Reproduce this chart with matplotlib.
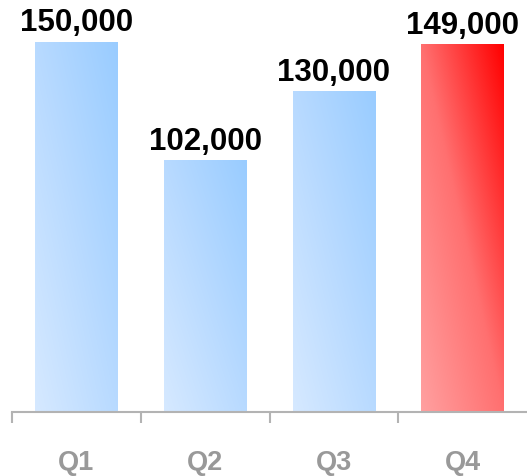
import numpy as np
import matplotlib
matplotlib.use('Agg')
import matplotlib.pyplot as plt
from matplotlib.colors import LinearSegmentedColormap

# 数据
categories = ['Q1', 'Q2', 'Q3', 'Q4']
values = [150000, 102000, 130000, 149000]
highlight = [False, False, False, True]

plt.rcParams['font.family'] = ['Liberation Sans', 'DejaVu Sans']

blue_cmap = LinearSegmentedColormap.from_list('blue', ['#d6e9ff', '#b8daff', '#99ccff'])
red_cmap = LinearSegmentedColormap.from_list('red', ['#ffa0a0', '#ff7070', '#ff0000'])

fig = plt.figure(figsize=(5.27, 4.77), dpi=100)
ax = fig.add_axes([12 / 527, (477 - 413) / 477, 515 / 527, 370 / 477])

x = np.arange(len(categories))
bars = ax.bar(x, values, width=0.64, color='none', edgecolor='none')

# 每个柱子用对角渐变填充（左下浅，右上深）
u = np.linspace(0, 1, 200)
v = np.linspace(1, 0, 200)
uu, vv = np.meshgrid(u, v)
grad = (uu + vv) / 2
for b, hl in zip(bars, highlight):
    x0, w, h = b.get_x(), b.get_width(), b.get_height()
    ax.imshow(grad, extent=[x0, x0 + w, 0, h], aspect='auto',
              cmap=red_cmap if hl else blue_cmap, vmin=0, vmax=1,
              interpolation='bilinear', zorder=2)

ax.set_xlim(-0.5, 3.5)
ax.set_ylim(0, 150000)

for i, val in enumerate(values):
    ax.annotate(f'{val:,}', (i, val), xytext=(0, 8.5), textcoords='offset points',
                ha='center', va='baseline', fontsize=22.5, fontweight='bold',
                color='black', annotation_clip=False)
    ax.annotate(categories[i], (i, 0), xytext=(0, -36), textcoords='offset points',
                ha='center', va='center', fontsize=19.5, fontweight='bold',
                color='#999999', annotation_clip=False)

# 坐标轴样式
for s in ['top', 'right', 'left']:
    ax.spines[s].set_visible(False)
ax.spines['bottom'].set_color('#b3b3b3')
ax.spines['bottom'].set_linewidth(1.5)
ax.set_yticks([])
ax.set_xticks([-0.5, 0.5, 1.5, 2.5])
ax.set_xticklabels([])
ax.tick_params(axis='x', length=8, width=1.5, color='#b3b3b3')
ax.patch.set_alpha(0)

fig.savefig('out.png', dpi=100)
